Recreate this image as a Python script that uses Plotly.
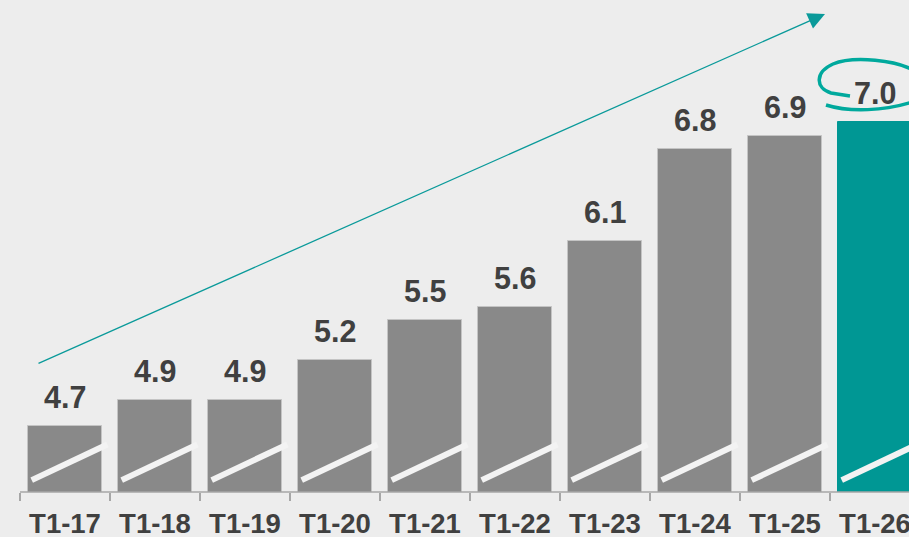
import plotly.graph_objects as go

# ---- data ----
categories = ["T1-17", "T1-18", "T1-19", "T1-20", "T1-21", "T1-22", "T1-23", "T1-24", "T1-25", "T1-26"]
values = [4.7, 4.9, 4.9, 5.2, 5.5, 5.6, 6.1, 6.8, 6.9, 7.0]
labels = ["4.7", "4.9", "4.9", "5.2", "5.5", "5.6", "6.1", "6.8", "6.9", "7.0"]

W, H = 909, 537
PLOT_BOTTOM = 492  # pixel row of the axis
Y_MIN, Y_MAX = 4.2, 4.2 + PLOT_BOTTOM / 132.0

GRAY = "#898989"
TEAL = "#009794"
BG = "#EDEDED"
TXT = "#404040"
FONT = "Liberation Sans, Arial, sans-serif"

colors = [GRAY] * (len(values) - 1) + [TEAL]
line_colors = ["#C4C4C4"] * (len(values) - 1) + [TEAL]

fig = go.Figure()
fig.add_trace(go.Bar(
    x=categories, y=values, width=0.833,
    marker=dict(color=colors, line=dict(color=line_colors, width=1)),
    hoverinfo="skip",
))

# value labels
for c, v, t in zip(categories, values, labels):
    fig.add_annotation(x=c, y=v, text="<b>%s</b>" % t, showarrow=False,
                       yanchor="bottom", yshift=10,
                       font=dict(family=FONT, size=30.5, color=TXT))

def pp(px, py):
    return px / W, (PLOT_BOTTOM - py) / PLOT_BOTTOM

shapes = []
# axis break slashes on each bar
for i in range(len(categories)):
    shapes.append(dict(type="line", xref="x", yref="y",
                       x0=i - 0.37, x1=i + 0.47, y0=4.29, y1=4.56,
                       line=dict(color="#F3F3F3", width=6)))
# axis line starting at first boundary
x0p, y0p = pp(20, PLOT_BOTTOM)
shapes.append(dict(type="line", xref="paper", yref="paper", x0=x0p, x1=1.02, y0=0, y1=0,
                   line=dict(color="#A6A6A6", width=1.5)))

# hand-drawn ellipse around last label
def path(pts_cmds):
    out = []
    for cmd, pts in pts_cmds:
        s = " ".join("%.5f,%.5f" % pp(*p) for p in pts)
        out.append(cmd + " " + s)
    return " ".join(out)

ell_top = path([("M", [(918, 73)]),
                ("C", [(898, 59), (852, 56), (833, 64)]),
                ("C", [(815, 72), (815, 88), (831, 93)]),
                ("L", [(850, 96)])])
ell_bot = path([("M", [(826, 105)]),
                ("C", [(848, 112), (885, 112), (918, 100)])])
for p in (ell_top, ell_bot):
    shapes.append(dict(type="path", xref="paper", yref="paper", path=p,
                       line=dict(color="#00A99D", width=3.5)))

fig.update_layout(shapes=shapes)

# trend arrow
fig.add_annotation(x=(825 - 65) / 90.0, y=Y_MIN + (PLOT_BOTTOM - 14) / 132.0,
                   ax=(37 - 65) / 90.0, ay=Y_MIN + (PLOT_BOTTOM - 364) / 132.0,
                   xref="x", yref="y", axref="x", ayref="y",
                   showarrow=True, arrowhead=2, arrowsize=2.6, arrowwidth=1.3,
                   arrowcolor="#0A9A9A", text="")

x_lo = -0.5 - 20 / 90.0
fig.update_layout(
    width=W, height=H,
    margin=dict(l=0, r=0, t=0, b=H - PLOT_BOTTOM, pad=0),
    paper_bgcolor=BG, plot_bgcolor=BG,
    showlegend=False,
    bargap=0,
    xaxis=dict(type="category", range=[x_lo, x_lo + W / 90.0], automargin=False,
               tickson="boundaries", ticks="outside", ticklen=8, tickwidth=1.5,
               tickcolor="#A6A6A6", showline=False, showgrid=False, zeroline=False,
               tickfont=dict(family=FONT, size=27.5, color=TXT),
               ticklabelstandoff=12,
               tickvals=categories, ticktext=["<b>%s</b>" % c for c in categories]),
    yaxis=dict(range=[Y_MIN, Y_MAX], visible=False, showgrid=False, zeroline=False,
               automargin=False),
)

fig.write_html("out.html")
